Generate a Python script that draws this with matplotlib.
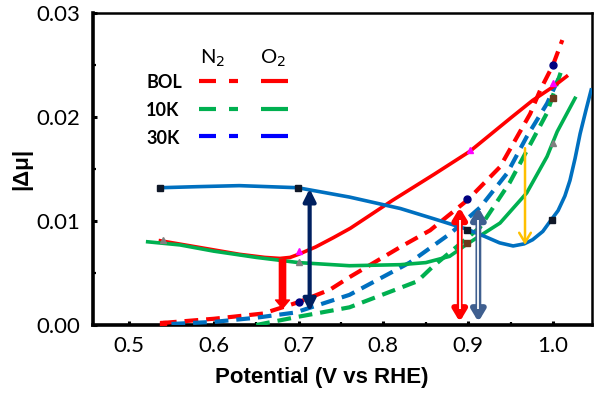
import matplotlib
matplotlib.use("Agg")
import matplotlib.pyplot as plt
from matplotlib.lines import Line2D

# ---------------- data ----------------
# O2 (solid) curves
bol_o2_x = [0.537, 0.58, 0.63, 0.66, 0.678, 0.69, 0.70, 0.72, 0.741, 0.761, 0.811, 0.86, 0.902, 0.95, 0.976, 1.0, 1.016]
bol_o2_y = [0.0081, 0.0075, 0.0068, 0.0065, 0.0064, 0.0065, 0.0068, 0.0075, 0.0084, 0.0093, 0.0120, 0.0145, 0.0167, 0.0199, 0.0216, 0.0229, 0.0239]

k10_o2_x = [0.522, 0.56, 0.60, 0.65, 0.70, 0.76, 0.82, 0.85, 0.878, 0.899, 0.9375, 0.969, 0.993, 1.005, 1.026]
k10_o2_y = [0.0080, 0.0077, 0.0071, 0.0065, 0.0060, 0.0057, 0.0058, 0.0060, 0.0066, 0.0078, 0.0098, 0.0127, 0.0162, 0.0186, 0.0218]

k30_o2_x = [0.537, 0.58, 0.63, 0.699, 0.76, 0.82, 0.86, 0.899, 0.92, 0.937, 0.953, 0.966, 0.976, 0.988, 0.996, 1.006, 1.014, 1.02, 1.026, 1.032, 1.039, 1.045]
k30_o2_y = [0.0132, 0.0133, 0.0134, 0.0132, 0.0123, 0.0112, 0.0102, 0.0092, 0.0085, 0.0079, 0.0076, 0.0078, 0.0082, 0.0090, 0.0099, 0.0110, 0.0124, 0.0139, 0.0160, 0.0184, 0.0207, 0.0226]

# N2 (dashed) curves
bol_n2_x = [0.54, 0.60, 0.658, 0.70, 0.737, 0.76, 0.82, 0.855, 0.899, 0.9375, 0.973, 0.985, 1.0, 1.011]
bol_n2_y = [0.0002, 0.0006, 0.0011, 0.0022, 0.0034, 0.0046, 0.0075, 0.0091, 0.0120, 0.0152, 0.0203, 0.0226, 0.0250, 0.0274]

k10_n2_x = [0.65, 0.70, 0.76, 0.84, 0.858, 0.914, 0.949, 0.976, 0.993, 1.01]
k10_n2_y = [0.0000, 0.0008, 0.0017, 0.0042, 0.0056, 0.0094, 0.0137, 0.0178, 0.0204, 0.0245]

k30_n2_x = [0.55, 0.60, 0.65, 0.696, 0.73, 0.76, 0.831, 0.879, 0.914, 0.946, 0.969, 0.993, 1.01]
k30_n2_y = [0.0001, 0.0003, 0.0007, 0.0012, 0.0021, 0.0029, 0.0060, 0.0088, 0.0113, 0.0146, 0.0181, 0.0213, 0.0243]

# markers
sq_x = [0.537, 0.699, 0.898, 0.999]
sq_y = [0.0132, 0.0132, 0.0091, 0.0101]
mag_x = [0.70, 0.902, 1.0]
mag_y = [0.0071, 0.0168, 0.0233]
gray_x = [0.54, 0.70, 1.0]
gray_y = [0.0082, 0.0061, 0.0175]
navy_x = [0.70, 0.899, 1.0]
navy_y = [0.0022, 0.0121, 0.0250]
brown_x = [0.899, 1.0]
brown_y = [0.0079, 0.0218]
redsq_x = [0.54]
redsq_y = [0.0001]

# arrows (x, y_from, y_to)
red_fat = (0.681, 0.0063, 0.0016)
navy_dbl = (0.713, 0.0131, 0.0013)
red_dbl = (0.890, 0.0113, 0.0003)
slate_dbl = (0.912, 0.0113, 0.0003)
yellow_arr = (0.967, 0.0170, 0.0077)

xticks = [0.5, 0.6, 0.7, 0.8, 0.9, 1.0]
xticklabels = ["0.5", "0.6", "0.7", "0.8", "0.9", "1.0"]
yticks = [0.0, 0.01, 0.02, 0.03]
yticklabels = ["0.00", "0.01", "0.02", "0.03"]

RED = "#FF0000"
GREEN = "#00B050"
BLUE = "#0070C0"

# ---------------- figure ----------------
fig = plt.figure(figsize=(6.02, 4.03), dpi=100)
ax = fig.add_axes([93/602, 1-325/403, (592-93)/602, (325-13)/403])
ax.set_xlim(0.4575, 1.046)
ax.set_ylim(0, 0.03)

dash = (3.3, 1.9)
ax.plot(bol_n2_x, bol_n2_y, color=RED, lw=3.0, dashes=dash, zorder=3)
ax.plot(k30_n2_x, k30_n2_y, color=BLUE, lw=3.0, dashes=dash, zorder=3)
ax.plot(k10_n2_x, k10_n2_y, color=GREEN, lw=3.0, dashes=dash, zorder=3)

ax.plot(bol_o2_x, bol_o2_y, color=RED, lw=2.6, zorder=4, solid_joinstyle="round")
ax.plot(k10_o2_x, k10_o2_y, color=GREEN, lw=2.6, zorder=4, solid_joinstyle="round")
ax.plot(k30_o2_x, k30_o2_y, color=BLUE, lw=2.6, zorder=4, solid_joinstyle="round")

ax.plot(sq_x, sq_y, ls="none", marker="s", ms=4.5, color="#101828", zorder=5)
ax.plot(mag_x, mag_y, ls="none", marker="^", ms=5, color="#FF00FF", zorder=5)
ax.plot(gray_x, gray_y, ls="none", marker="^", ms=5, color="#808080", zorder=5)
ax.plot(navy_x, navy_y, ls="none", marker="o", ms=5, color="#000080", zorder=5)
ax.plot(brown_x, brown_y, ls="none", marker="s", ms=4.5, color="#6B3A1E", zorder=5)
ax.plot(redsq_x, redsq_y, ls="none", marker="s", ms=5, color=RED, zorder=5)

# arrows
x, y0, y1 = red_fat
ax.annotate("", xy=(x, y1), xytext=(x, y0),
            arrowprops=dict(arrowstyle="simple,head_length=0.6,head_width=1.0,tail_width=0.45",
                            mutation_scale=10, color=RED, shrinkA=0, shrinkB=0), zorder=6)
x, y0, y1 = navy_dbl
ax.annotate("", xy=(x, y1), xytext=(x, y0),
            arrowprops=dict(arrowstyle="<|-|>,head_length=0.6,head_width=0.3",
                            mutation_scale=12, color="#002060", lw=3.0, shrinkA=0, shrinkB=0), zorder=6)
for (x, y0, y1), col in [(red_dbl, RED), (slate_dbl, "#3F5F8F")]:
    ax.annotate("", xy=(x, y1), xytext=(x, y0),
                arrowprops=dict(arrowstyle="<|-|>,head_length=0.55,head_width=0.33",
                                mutation_scale=12, color=col, lw=4.2, shrinkA=0, shrinkB=0), zorder=6)
    ax.plot([x, x], [y1 + 0.0012, y0 - 0.0012], color="white", lw=1.3, zorder=7, solid_capstyle="butt")
x, y0, y1 = yellow_arr
ax.annotate("", xy=(x, y1), xytext=(x, y0),
            arrowprops=dict(arrowstyle="->,head_length=0.5,head_width=0.3",
                            mutation_scale=14, color="#FFC000", lw=1.8, shrinkA=0, shrinkB=0), zorder=6)

# axes styling
for s in ["left", "bottom"]:
    ax.spines[s].set_linewidth(2.6)
for s in ["top", "right"]:
    ax.spines[s].set_linewidth(1.8)
ax.set_xticks(xticks)
ax.set_xticklabels(xticklabels)
ax.set_yticks(yticks)
ax.set_yticklabels(yticklabels)
ax.set_xticks([0.55, 0.65, 0.75, 0.85, 0.95], minor=True)
ax.set_yticks([0.005, 0.015, 0.025], minor=True)
ax.tick_params(which="major", direction="in", length=3, width=2.2, pad=8,
               labelsize=16, top=False, right=False)
ax.tick_params(which="minor", direction="in", length=2, width=1.6, top=False, right=False)
for lab in ax.get_xticklabels() + ax.get_yticklabels():
    lab.set_fontfamily(["Lato", "DejaVu Sans"])
ax.tick_params(axis="y", pad=9)

ax.set_xlabel("Potential (V vs RHE)", fontsize=16, fontweight="bold",
              family=["Liberation Sans", "DejaVu Sans"])
ax.xaxis.set_label_coords((322 - 93) / 499, -(388 - 325) / 312)
ax.xaxis.label.set_va("bottom")
ax.set_ylabel("|Δμ|", fontsize=16, fontweight="bold",
              family=["Liberation Sans", "DejaVu Sans"])
ax.yaxis.set_label_coords(-(93 - 22) / 499, 0.5)
ax.yaxis.label.set_va("center")

# custom legend (figure pixel coordinates)
def fp(px, py):
    return (px / 602, 1 - py / 403)

tf = fig.transFigure
fig.text(*fp(213, 64), r"N$_2$", fontsize=14.5, ha="center", va="baseline",
         family=["Lato", "DejaVu Sans"], transform=tf)
fig.text(*fp(273, 64), r"O$_2$", fontsize=14.5, ha="center", va="baseline",
         family=["Lato", "DejaVu Sans"], transform=tf)
rows = [("BOL", 83, RED), ("10K", 111, GREEN), ("30K", 138, "#0000FF")]
for name, yy, col in rows:
    fig.text(*fp(146, yy), name, fontsize=13, fontweight="bold", ha="left", va="center",
             family=["Lato", "DejaVu Sans"], transform=tf)
    ly = yy - 2
    for (xa, xb) in [(199, 216), (229, 238), (261, 288)]:
        (fx0, fy0), (fx1, fy1) = fp(xa, ly), fp(xb, ly)
        fig.add_artist(Line2D([fx0, fx1], [fy0, fy1], color=col, lw=3.0,
                              solid_capstyle="butt", transform=tf))

fig.savefig("out.png", dpi=100)
